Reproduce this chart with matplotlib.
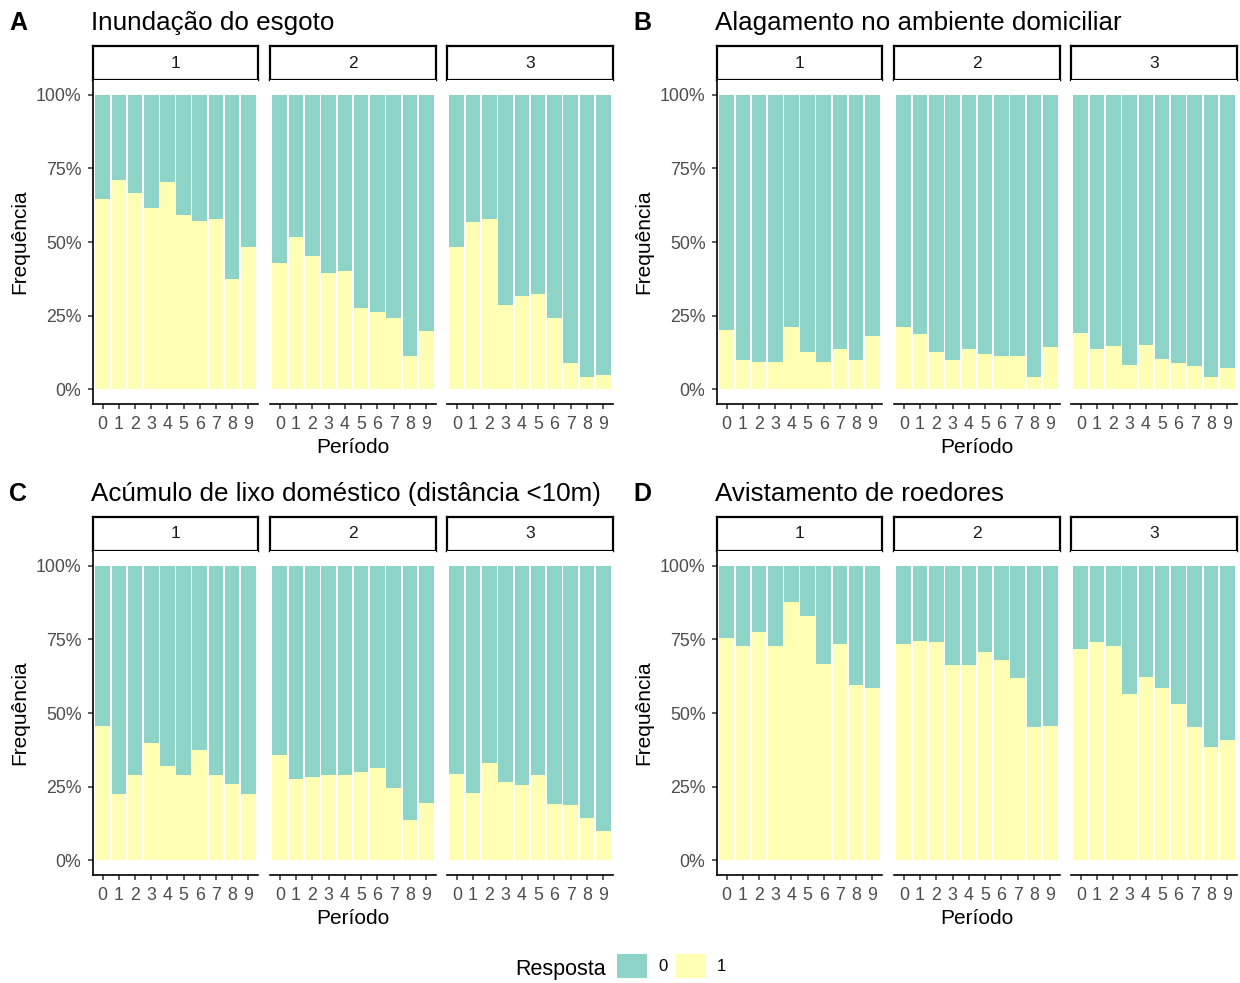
import matplotlib.pyplot as plt
from matplotlib.patches import Patch

plt.rcParams['font.family'] = ['Liberation Sans', 'DejaVu Sans']

W, H = 1240, 983

periodos = ['0', '1', '2', '3', '4', '5', '6', '7', '8', '9']
grupos = ['1', '2', '3']

# proporcao de resposta 1 por periodo, para cada grupo
esgoto = [
    [0.647, 0.711, 0.666, 0.616, 0.705, 0.591, 0.572, 0.577, 0.375, 0.483],
    [0.429, 0.518, 0.454, 0.394, 0.400, 0.275, 0.262, 0.242, 0.113, 0.198],
    [0.483, 0.567, 0.577, 0.286, 0.315, 0.325, 0.242, 0.088, 0.040, 0.050],
]
alagamento = [
    [0.202, 0.098, 0.094, 0.094, 0.211, 0.128, 0.094, 0.138, 0.098, 0.182],
    [0.211, 0.187, 0.128, 0.098, 0.138, 0.119, 0.113, 0.113, 0.040, 0.142],
    [0.192, 0.138, 0.148, 0.084, 0.152, 0.103, 0.088, 0.079, 0.040, 0.073],
]
lixo = [
    [0.457, 0.226, 0.288, 0.397, 0.319, 0.288, 0.373, 0.288, 0.259, 0.226],
    [0.358, 0.275, 0.284, 0.288, 0.288, 0.299, 0.313, 0.245, 0.137, 0.196],
    [0.294, 0.230, 0.329, 0.265, 0.255, 0.288, 0.191, 0.186, 0.143, 0.098],
]
roedores = [
    [0.755, 0.726, 0.776, 0.726, 0.878, 0.829, 0.668, 0.735, 0.594, 0.584],
    [0.735, 0.745, 0.741, 0.662, 0.662, 0.706, 0.681, 0.618, 0.451, 0.457],
    [0.716, 0.741, 0.726, 0.565, 0.623, 0.584, 0.530, 0.451, 0.383, 0.407],
]

paineis = [
    ('A', 'Inundação do esgoto', esgoto, 0, 0),
    ('B', 'Alagamento no ambiente domiciliar', alagamento, 624, 0),
    ('C', 'Acúmulo de lixo doméstico (distância <10m)', lixo, 0, 471),
    ('D', 'Avistamento de roedores', roedores, 624, 471),
]

cor0 = '#8DD3C7'
cor1 = '#FFFFB3'
cinza = '#4D4D4D'

# posicoes horizontais das facetas (px)
facetas_x = [(93, 258), (270, 436), (447, 613)]


def caixa(x0, y0, x1, y1):
    return [x0 / W, 1 - y1 / H, (x1 - x0) / W, (y1 - y0) / H]


fig = plt.figure(figsize=(W / 100, H / 100), dpi=100)

for letra, titulo, dados, dx, dy in paineis:
    fig.text((9 + dx) / W, 1 - (23 + dy) / H, letra, fontsize=18, fontweight='bold',
             va='center', ha='left')
    fig.text((91 + dx) / W, 1 - (23 + dy) / H, titulo, fontsize=18.7, va='center', ha='left')

    for k, (xa, xb) in enumerate(facetas_x):
        # faixa com o numero do grupo
        st = fig.add_axes(caixa(xa + dx, 46 + dy, xb + dx, 80 + dy))
        st.set_xticks([])
        st.set_yticks([])
        for s in st.spines.values():
            s.set_linewidth(1.6)
            s.set_color('black')
        st.text(0.5, 0.5, grupos[k], transform=st.transAxes, ha='center', va='center',
                fontsize=12.5, color='#1A1A1A')

        ax = fig.add_axes(caixa(xa + dx, 80 + dy, xb + dx, 404 + dy))
        xs = range(len(periodos))
        um = dados[k]
        zero = [1 - v for v in um]
        ax.bar(xs, um, width=0.9, color=cor1, linewidth=0)
        ax.bar(xs, zero, width=0.9, bottom=um, color=cor0, linewidth=0)
        ax.set_xlim(-0.6, 9.6)
        ax.set_ylim(-0.05, 1.05)
        ax.set_xticks(list(xs))
        ax.set_xticklabels(periodos)
        ax.spines['top'].set_visible(False)
        ax.spines['right'].set_visible(False)
        ax.spines['bottom'].set_linewidth(1.2)
        ax.tick_params(axis='x', length=3.8, width=1.1, color='#333333', labelsize=12.8,
                       labelcolor=cinza, pad=4.5)
        if k == 0:
            ax.spines['left'].set_linewidth(1.2)
            ax.set_yticks([0, 0.25, 0.5, 0.75, 1])
            ax.set_yticklabels(['0%', '25%', '50%', '75%', '100%'])
            ax.tick_params(axis='y', length=3.8, width=1.1, color='#333333', labelsize=12.8,
                           labelcolor=cinza, pad=4.5)
            ax.set_ylabel('Frequência', fontsize=15, labelpad=5)
        else:
            ax.spines['left'].set_visible(False)
            ax.set_yticks([])
        if k == 1:
            ax.set_xlabel('Período', fontsize=15, labelpad=4)

fig.text(515 / W, 1 - 970 / H, 'Resposta', fontsize=15.5, va='center', ha='left')
fig.legend(handles=[Patch(facecolor=cor0, label='0'), Patch(facecolor=cor1, label='1')],
           loc='center left', bbox_to_anchor=(604 / W, 1 - 966 / H), ncol=2, frameon=False,
           fontsize=12, handlelength=1.8, handleheight=1.75, handletextpad=0.65,
           columnspacing=0.5, borderpad=0.3)

fig.savefig('out.png', dpi=100)
